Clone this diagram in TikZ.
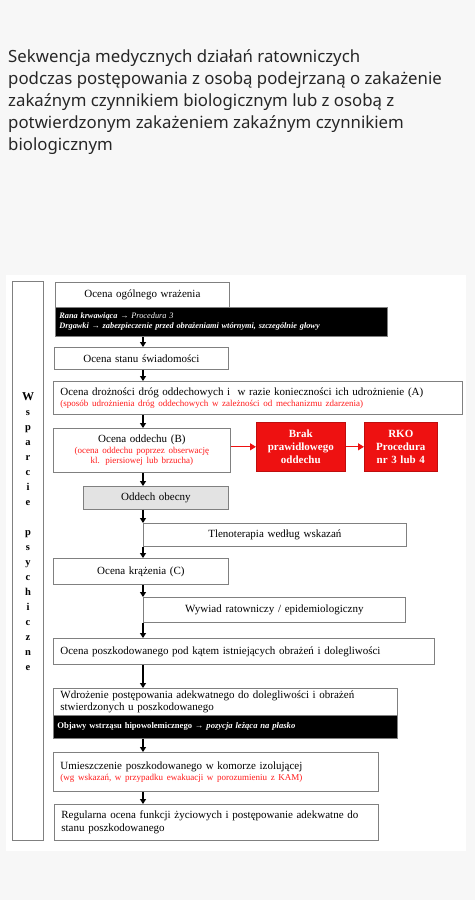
\documentclass[tikz,border=0pt]{standalone}
\usepackage{fontspec}
\setmainfont{Liberation Serif}
\newfontfamily\titlefont{Noto Sans}
\usetikzlibrary{arrows.meta,calc}
\definecolor{bgout}{HTML}{F7F7F7}
\definecolor{redfill}{HTML}{EE1111}
\definecolor{redtxt}{HTML}{FF1A1A}
\definecolor{titlecol}{HTML}{262626}
\definecolor{graybox}{HTML}{E3E3E3}
\definecolor{edge}{HTML}{808080}
\newcommand\mymainsz{\fontsize{11}{12.5}\selectfont}
\newcommand\myredsz{\color{redtxt}\fontsize{9}{10.5}\selectfont}
\begin{document}
\begin{tikzpicture}[x=1pt,y=-1pt,
  fbox/.style={draw=edge, line width=0.8pt, fill=white, anchor=north west, inner xsep=0pt, inner ysep=0pt, font=\mymainsz, align=center},
  lbox/.style={fbox, inner xsep=7pt, align=left},
  blkbox/.style={draw=edge, line width=0.8pt, fill=black, text=white, anchor=north west, inner xsep=4pt, inner ysep=0pt, align=left, font=\bfseries\itshape\fontsize{8.3}{10}\selectfont},
  redbox/.style={fill=redfill, draw=redfill!80!black, line width=0.6pt, text=white, anchor=north west, inner sep=0pt, align=center, font=\bfseries\fontsize{11}{13}\selectfont},
  flow/.style={line width=1.2pt, -{Triangle[length=5pt,width=6pt]}},
  redflow/.style={line width=1.2pt, draw=redfill, -{Triangle[length=6pt,width=7pt]}},
  titleline/.style={anchor=base west, inner sep=0pt, text=titlecol, font=\titlefont\fontsize{16.8}{22}\selectfont},
  letter/.style={anchor=base, inner sep=0pt, font=\bfseries\fontsize{10.5}{10.5}\selectfont}
]
\useasboundingbox (0,0) rectangle (475,900);
\fill[bgout] (0,0) rectangle (475,900);
\fill[white] (6,275) rectangle (466,851);

% title
\node[titleline] (t1) at (8,62) {Sekwencja medycznych działań ratowniczych};
\node[titleline] (t2) at (8,84) {podczas postępowania z osobą podejrzaną o zakażenie};
\node[titleline] (t3) at (8,106) {zakaźnym czynnikiem biologicznym lub z osobą z};
\node[titleline] (t4) at (8,128) {potwierdzonym zakażeniem zakaźnym czynnikiem};
\node[titleline] (t5) at (8,150) {biologicznym};

% left column
\node[draw=edge, line width=0.8pt, fill=white, anchor=north west, minimum width=31pt, minimum height=559pt, inner sep=0pt] (wsp) at (12,281) {};
\node[letter, font=\bfseries\fontsize{12}{12}\selectfont] (la1) at (28,400) {W};
\foreach \ch [count=\i from 2] in {s,p,a,r,c,i,e}
  \node[letter] (la\i) at (28,{400+15*(\i-1)}) {\ch};
\foreach \ch [count=\i] in {p,s,y,c,h,i,c,z,n,e}
  \node[letter] (lb\i) at (28,{535+15*(\i-1)}) {\ch};

% boxes
\node[fbox, text width=174pt, minimum height=25pt] (ogol) at (55,282) {Ocena ogólnego wrażenia};
\node[blkbox, text width=324pt, minimum height=29pt] (blk1) at (55,307)
  {Rana krwawiąca → {\mdseries Procedura 3}\\Drgawki → zabezpieczenie przed obrażeniami wtórnymi, szczególnie głowy};
\node[fbox, text width=174pt, minimum height=22pt] (swiad) at (54,347) {Ocena stanu świadomości};
\node[lbox, text width=395pt, minimum height=33pt] (droz) at (53,381)
  {Ocena drożności dróg oddechowych i \ w razie konieczności ich udrożnienie (A)\par{\myredsz (sposób udrożnienia dróg oddechowych w zależności od mechanizmu zdarzenia)\par}};
\node[fbox, text width=177pt, minimum height=44pt] (oddech) at (53,428)
  {Ocena oddechu (B)\par{\myredsz (ocena oddechu poprzez obserwację\\kl. piersiowej lub brzucha)\par}};
\node[redbox, text width=89pt, minimum height=49pt] (brak) at (256,422) {Brak\\prawidłowego\\oddechu};
\node[redbox, text width=73pt, minimum height=49pt] (rko) at (364,422) {RKO\\Procedura\\nr 3 lub 4};
\node[fbox, fill=graybox, text width=145pt, minimum height=23pt] (obecny) at (83,486) {Oddech obecny};
\node[fbox, text width=263pt, minimum height=23pt] (tlen) at (143,523) {Tlenoterapia według wskazań};
\node[fbox, text width=175pt, minimum height=26pt] (kraz) at (53,558) {Ocena krążenia (C)};
\node[fbox, text width=262pt, minimum height=25pt] (wywiad) at (143,597) {Wywiad ratowniczy / epidemiologiczny};
\node[lbox, text width=367pt, minimum height=26pt] (poszk) at (53,638) {Ocena poszkodowanego pod kątem istniejących obrażeń i dolegliwości};
\node[lbox, text width=330pt, minimum height=27pt] (wdroz) at (53,688)
  {Wdrożenie postępowania adekwatnego do dolegliwości i obrażeń\\stwierdzonych u poszkodowanego};
\node[blkbox, text width=336pt, minimum height=23pt, font=\bfseries\fontsize{8.6}{10}\selectfont] (blk2) at (53,715)
  {Objawy wstrząsu hipowolemicznego \textit{→ pozycja leżąca na płasko}};
\node[lbox, text width=311pt, minimum height=39pt] (umiesz) at (53,752)
  {Umieszczenie poszkodowanego w komorze izolującej\par{\myredsz (wg wskazań, w przypadku ewakuacji w porozumieniu z KAM)\par}};
\node[lbox, text width=310pt, minimum height=36pt] (regul) at (54,804)
  {Regularna ocena funkcji życiowych i postępowanie adekwatne do\\stanu poszkodowanego};

% connectors
\coordinate (spine) at (143,0);
\draw[flow] (blk1.south -| spine) -- (swiad.north -| spine);
\draw[flow] (swiad.south -| spine) -- (droz.north -| spine);
\draw[flow] (droz.south -| spine) -- (oddech.north -| spine);
\draw[flow] (oddech.south -| spine) -- (obecny.north -| spine);
\draw[flow] (obecny.south -| spine) -- (tlen.north west);
\draw[flow] (tlen.south west) -- (kraz.north -| spine);
\draw[flow] (kraz.south -| spine) -- (wywiad.north west);
\draw[flow] (wywiad.south west) -- (poszk.north -| spine);
\draw[flow] (poszk.south -| spine) -- (wdroz.north -| spine);
\draw[flow] (blk2.south -| spine) -- (umiesz.north -| spine);
\draw[flow] (umiesz.south -| spine) -- (regul.north -| spine);
\draw[redflow] (brak.west -| oddech.east) -- (brak.west);
\draw[redflow] (brak.east) -- (rko.west);
\end{tikzpicture}
\end{document}
